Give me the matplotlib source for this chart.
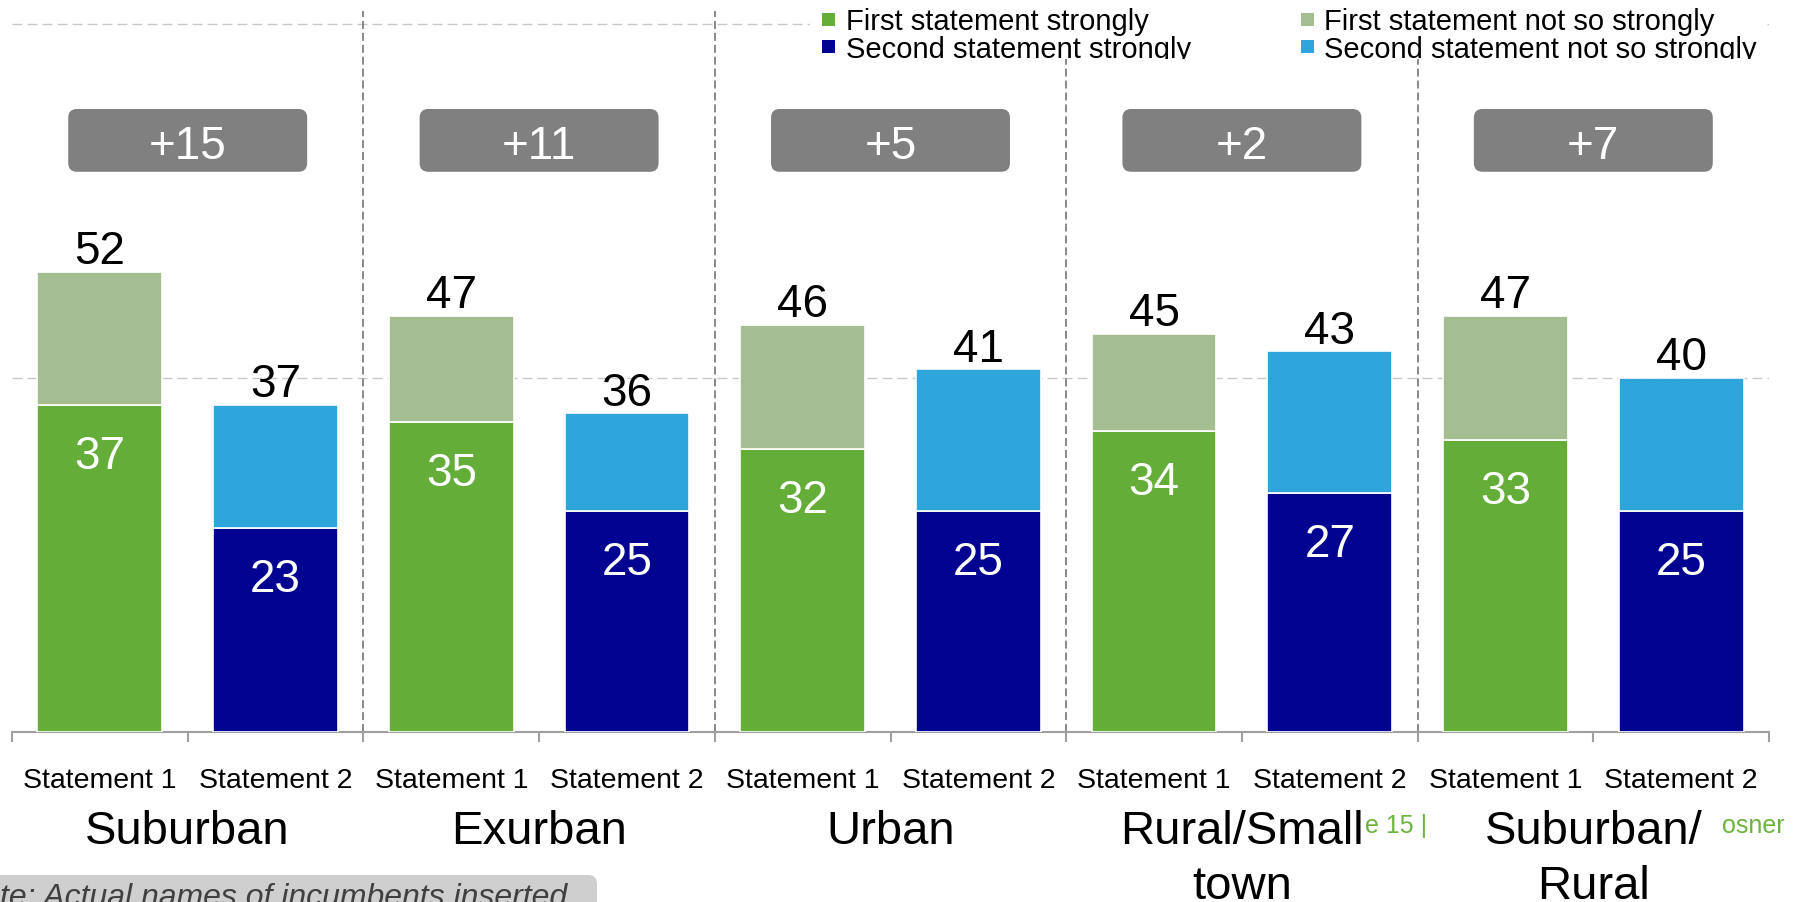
import numpy as np
import matplotlib
matplotlib.use("Agg")
import matplotlib.pyplot as plt
from matplotlib.patches import FancyBboxPatch, Rectangle

plt.rcParams['font.family'] = ['Liberation Sans', 'DejaVu Sans']

# data
groups = ["Suburban", "Exurban", "Urban", "Rural/Small\ntown", "Suburban/\nRural"]
statements = ["Statement 1", "Statement 2"]
margins = ["+15", "+11", "+5", "+2", "+7"]

first_strong = [37, 35, 32, 34, 33]
first_total = [52, 47, 46, 45, 47]
second_strong = [23, 25, 25, 27, 25]
second_total = [37, 36, 41, 43, 40]

legend_labels = ["First statement strongly", "Second statement strongly",
                 "First statement not so strongly", "Second statement not so strongly"]

c_green = "#63ad38"
c_lgreen = "#a4be92"
c_navy = "#020391"
c_blue = "#2ea6dc"
c_grey = "#808080"

W, H = 1801, 903
fig = plt.figure(figsize=(W / 100, H / 100), dpi=100)
ax = fig.add_axes([12 / W, 170 / H, 1757 / W, 733 / H])
ax.set_xlim(-0.5, 9.5)
ax.set_ylim(0, 733 / 8.85)

bw = 0.71
x1 = np.arange(5) * 2
x2 = x1 + 1
f_weak = np.array(first_total) - np.array(first_strong)
s_weak = np.array(second_total) - np.array(second_strong)

ax.bar(x1, first_strong, bw, color=c_green, edgecolor="white", linewidth=1.2, zorder=3)
ax.bar(x1, f_weak, bw, bottom=first_strong, color=c_lgreen, edgecolor="white", linewidth=1.2, zorder=3)
ax.bar(x2, second_strong, bw, color=c_navy, edgecolor="white", linewidth=1.2, zorder=3)
ax.bar(x2, s_weak, bw, bottom=second_strong, color=c_blue, edgecolor="white", linewidth=1.2, zorder=3)

# gridlines and group separators
for gy in [40, 80]:
    ax.axhline(gy, color="#c8c8c8", lw=1, linestyle=(0, (7.2, 3.6)), zorder=1)
ax.vlines([1.5, 3.5, 5.5, 7.5], 0, 81.5, colors="#808080", lw=1.3,
          linestyles=(0, (4.4, 2.2)), zorder=2)

# value labels
for xs, strong, total in [(x1, first_strong, first_total), (x2, second_strong, second_total)]:
    for x, s, t in zip(xs, strong, total):
        ax.annotate(str(t), xy=(x, t), xytext=(0, 14.8), textcoords="offset points",
                    ha="center", va="center", fontsize=33, color="black", zorder=5)
        ax.annotate(str(s), xy=(x, s), xytext=(0, -36.7), textcoords="offset points",
                    ha="center", va="center", fontsize=33, color="white", zorder=5)

# margin boxes
for g, m in enumerate(margins):
    gc = 2 * g + 0.5
    box = FancyBboxPatch((gc - 0.68, 63.3), 1.36, 7.1,
                         boxstyle="round,pad=0,rounding_size=0.05",
                         mutation_aspect=175.7 / 8.85, facecolor=c_grey,
                         edgecolor="none", zorder=4)
    ax.add_patch(box)
    ax.text(gc, 66.2, m, ha="center", va="center", fontsize=33, color="white", zorder=5)

# axis
for s in ["top", "right", "left"]:
    ax.spines[s].set_visible(False)
ax.spines["bottom"].set_color("#a0a0a0")
ax.spines["bottom"].set_linewidth(1.5)
ax.set_yticks([])
ax.set_xticks([])
ax.set_xticks(np.arange(-0.5, 10, 1), minor=True)
ax.tick_params(axis="x", which="minor", length=7.2, width=1.5, color="#a0a0a0")

for i in range(10):
    ax.annotate(statements[i % 2], xy=(i, 0), xytext=(0, -39.6), textcoords="offset points",
                ha="center", va="baseline", fontsize=20.5, annotation_clip=False)
# group names, one line at a time so every first line sits on the same baseline
for g, name in enumerate(groups):
    for k, line in enumerate(name.split("\n")):
        ax.annotate(line, xy=(2 * g + 0.5, 0), xytext=(0, -79.9 - 39.6 * k),
                    textcoords="offset points", ha="center", va="baseline",
                    fontsize=34, annotation_clip=False)

# legend drawn by hand to match the slide
bg = Rectangle((810 / W, 1 - 60 / H), 955 / W, 60 / H, transform=fig.transFigure,
               facecolor="white", edgecolor="none", zorder=5)
fig.add_artist(bg)
leg_colors = [c_green, c_navy, c_lgreen, c_blue]
mark_x = [828, 828, 1307, 1307]
text_x = [846, 846, 1324, 1324]
rows = [0, 1, 0, 1]
for lab, col, mx, tx, r in zip(legend_labels, leg_colors, mark_x, text_x, rows):
    my = 20 + 27 * r
    fig.add_artist(Rectangle(((mx - 6.5) / W, 1 - (my + 6.5) / H), 13 / W, 13 / H,
                             transform=fig.transFigure, facecolor=col,
                             edgecolor="none", zorder=6))
    t = fig.text(tx / W, 1 - (30 + 28.5 * r) / H, lab, fontsize=21, va="baseline",
                 ha="left", zorder=6)
    t.set_clip_path(bg)

# footer fragments
fig.text(1365 / W, 1 - 833 / H, "e 15 |", fontsize=18, color="#6cb33f", va="baseline")
fig.text(1722 / W, 1 - 833 / H, "osner", fontsize=18, color="#6cb33f", va="baseline")

# note box in the corner
note = FancyBboxPatch((-0.02, -0.06), 597 / W + 0.02, 0.06 + 1 - 876 / H,
                      boxstyle="round,pad=0,rounding_size=0.005",
                      mutation_aspect=W / H, transform=fig.transFigure,
                      facecolor="#cfcfcf", edgecolor="none", zorder=1)
fig.add_artist(note)
fig.text(0, 1 - 906 / H, "te: Actual names of incumbents inserted", fontsize=23,
         style="italic", color="#404040", va="baseline", ha="left", zorder=2)

fig.savefig("out.png", dpi=100)
